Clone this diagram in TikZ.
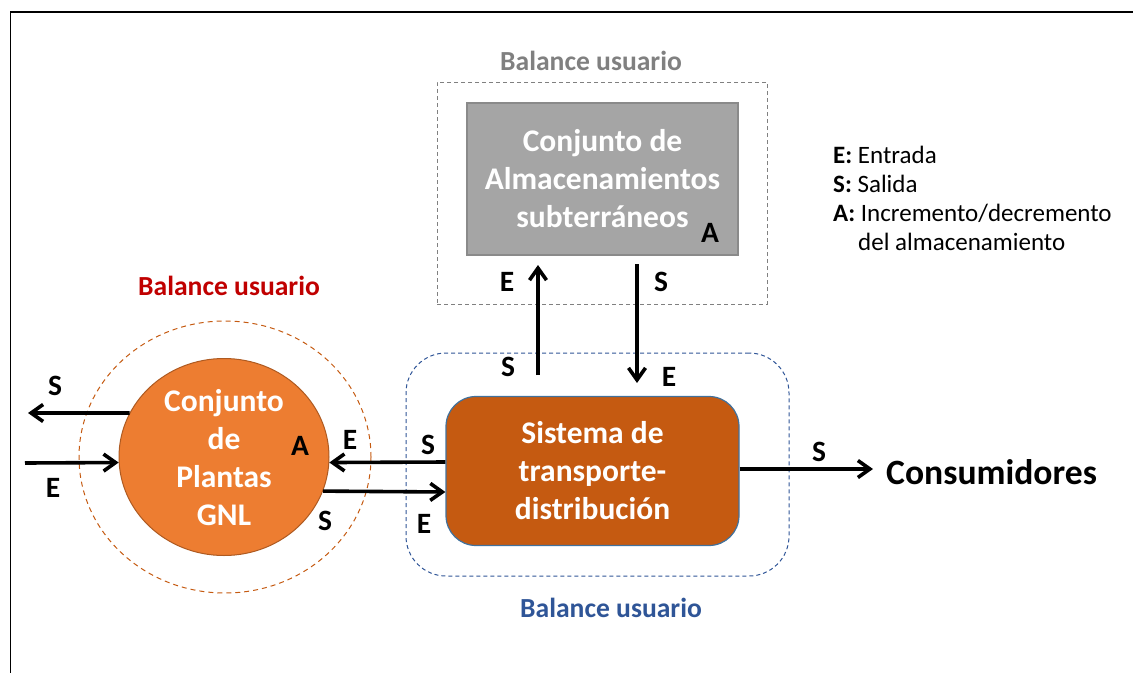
\documentclass[tikz,border=0pt]{standalone}
\usepackage{fontspec}
\setmainfont{Carlito}
\usetikzlibrary{shapes.geometric,arrows.meta}
\definecolor{orangeF}{HTML}{ED7D31}
\definecolor{orangeD}{HTML}{AE5A21}
\definecolor{rustF}{HTML}{C55A11}
\definecolor{blueL}{HTML}{41719C}
\definecolor{blueD}{HTML}{2F5597}
\definecolor{grayF}{HTML}{A5A5A5}
\definecolor{grayD}{HTML}{8A8A8A}
\definecolor{grayT}{HTML}{808080}
\definecolor{redT}{HTML}{C00000}
\tikzset{
  arr/.style={line width=3.6pt,-{Straight Barb[length=12pt,width=17pt]}},
  lab/.style={font=\fontsize{29.5}{32}\selectfont\bfseries,inner sep=0pt},
  boxtxt/.style={text=white,align=center,font=\fontsize{31.5}{38}\selectfont\bfseries,inner sep=0pt},
  baltxt/.style={font=\fontsize{27.6}{32}\selectfont\bfseries,inner sep=0pt},
  legtxt/.style={anchor=west,font=\fontsize{25}{29}\selectfont,inner sep=0pt},
}
\begin{document}
\begin{tikzpicture}[x=1pt,y=-1pt]
\useasboundingbox (0,0) rectangle (1133,673);
% frame
\draw[line width=1.5pt] (1133,12) -- (10,12);
\draw[line width=1pt] (10,12) -- (10,673);

% dashed balance regions
\node[draw=grayT,line width=1pt,dash pattern=on 4pt off 3pt,minimum width=330pt,minimum height=222pt,inner sep=0pt] (gdash) at (602,193) {};
\node[ellipse,draw=rustF,line width=1pt,dash pattern=on 5pt off 4pt,minimum width=292pt,minimum height=272pt,inner sep=0pt] (cdash) at (225,457) {};
\node[draw=blueD,line width=1pt,dash pattern=on 4pt off 3pt,rounded corners=40pt,minimum width=383pt,minimum height=223pt,inner sep=0pt] (bdash) at (597.5,464.5) {};

% main shapes
\node[draw=grayD,fill=grayF,line width=1.5pt,minimum width=271pt,minimum height=152pt,inner sep=0pt,boxtxt] (gbox) at (602.5,179) {Conjunto de\\Almacenamientos\\subterráneos};
\node[ellipse,draw=orangeD,fill=orangeF,line width=1pt,minimum width=210pt,minimum height=197pt,inner sep=0pt] (circ) at (224,457) {};
\node[boxtxt] (circtxt) at (224,458) {Conjunto\\de\\Plantas\\GNL};
\node[draw=blueL,fill=rustF,line width=1.2pt,rounded corners=30pt,minimum width=293pt,minimum height=149pt,inner sep=0pt,boxtxt] (sist) at (592.5,471) {Sistema de\\transporte-\\distribución};
\node[anchor=west,inner xsep=13pt,inner ysep=0pt,font=\fontsize{35.6}{40}\selectfont\bfseries] (cons) at (873,472) {Consumidores};

% titles
\node[baltxt,text=grayT] (tgray) at (591,61) {Balance usuario};
\node[baltxt,text=redT] (tred) at (229,286) {Balance usuario};
\node[baltxt,text=blueD] (tblue) at (611,608) {Balance usuario};

% legend
\node[legtxt] (lg1) at (833,155) {\textbf{E:} Entrada};
\node[legtxt] (lg2) at (833,184) {\textbf{S:} Salida};
\node[legtxt] (lg3) at (833,213) {\textbf{A:} Incremento/decremento};
\node[legtxt] (lg4) at (858,242) {del almacenamiento};

% free ends
\coordinate (pL1) at (28,413);
\coordinate (pL2) at (25,463);
\coordinate (yA) at (0,462);
\coordinate (yB) at (0,492);
\coordinate (yC) at (0,469);
\coordinate (uBot) at (538,375);
\coordinate (uTop) at (538,265);
\coordinate (dTop) at (637,264);
\coordinate (dBot) at (637,383);

% connectors
\draw[arr] (circ.155) -- (pL1);
\draw[arr] (pL2) -- (circ.183);
\draw[arr] (sist.west |- yA) -- (circ.-3);
\draw[arr] (circ.-19.5) -- (sist.west |- yB);
\draw[arr] (uBot) -- (uTop);
\draw[arr] (dTop) -- (dBot);
\draw[arr] (sist.east |- yC) -- (cons.west |- yC);

% labels
\node[lab] (lS1) at (55,386) {S};
\node[lab] (lE1) at (53,488) {E};
\node[lab] (lA1) at (300,446) {A};
\node[lab] (lE2) at (350,440) {E};
\node[lab] (lS2) at (428,445) {S};
\node[lab] (lS3) at (325,521) {S};
\node[lab] (lE3) at (424,524) {E};
\node[lab] (lE4) at (507,282) {E};
\node[lab] (lS4) at (661,282) {S};
\node[lab] (lS5) at (508,367) {S};
\node[lab] (lE5) at (669,377) {E};
\node[lab] (lS6) at (819,452) {S};
\node[lab] (lA2) at (710,233) {A};
\end{tikzpicture}
\end{document}
